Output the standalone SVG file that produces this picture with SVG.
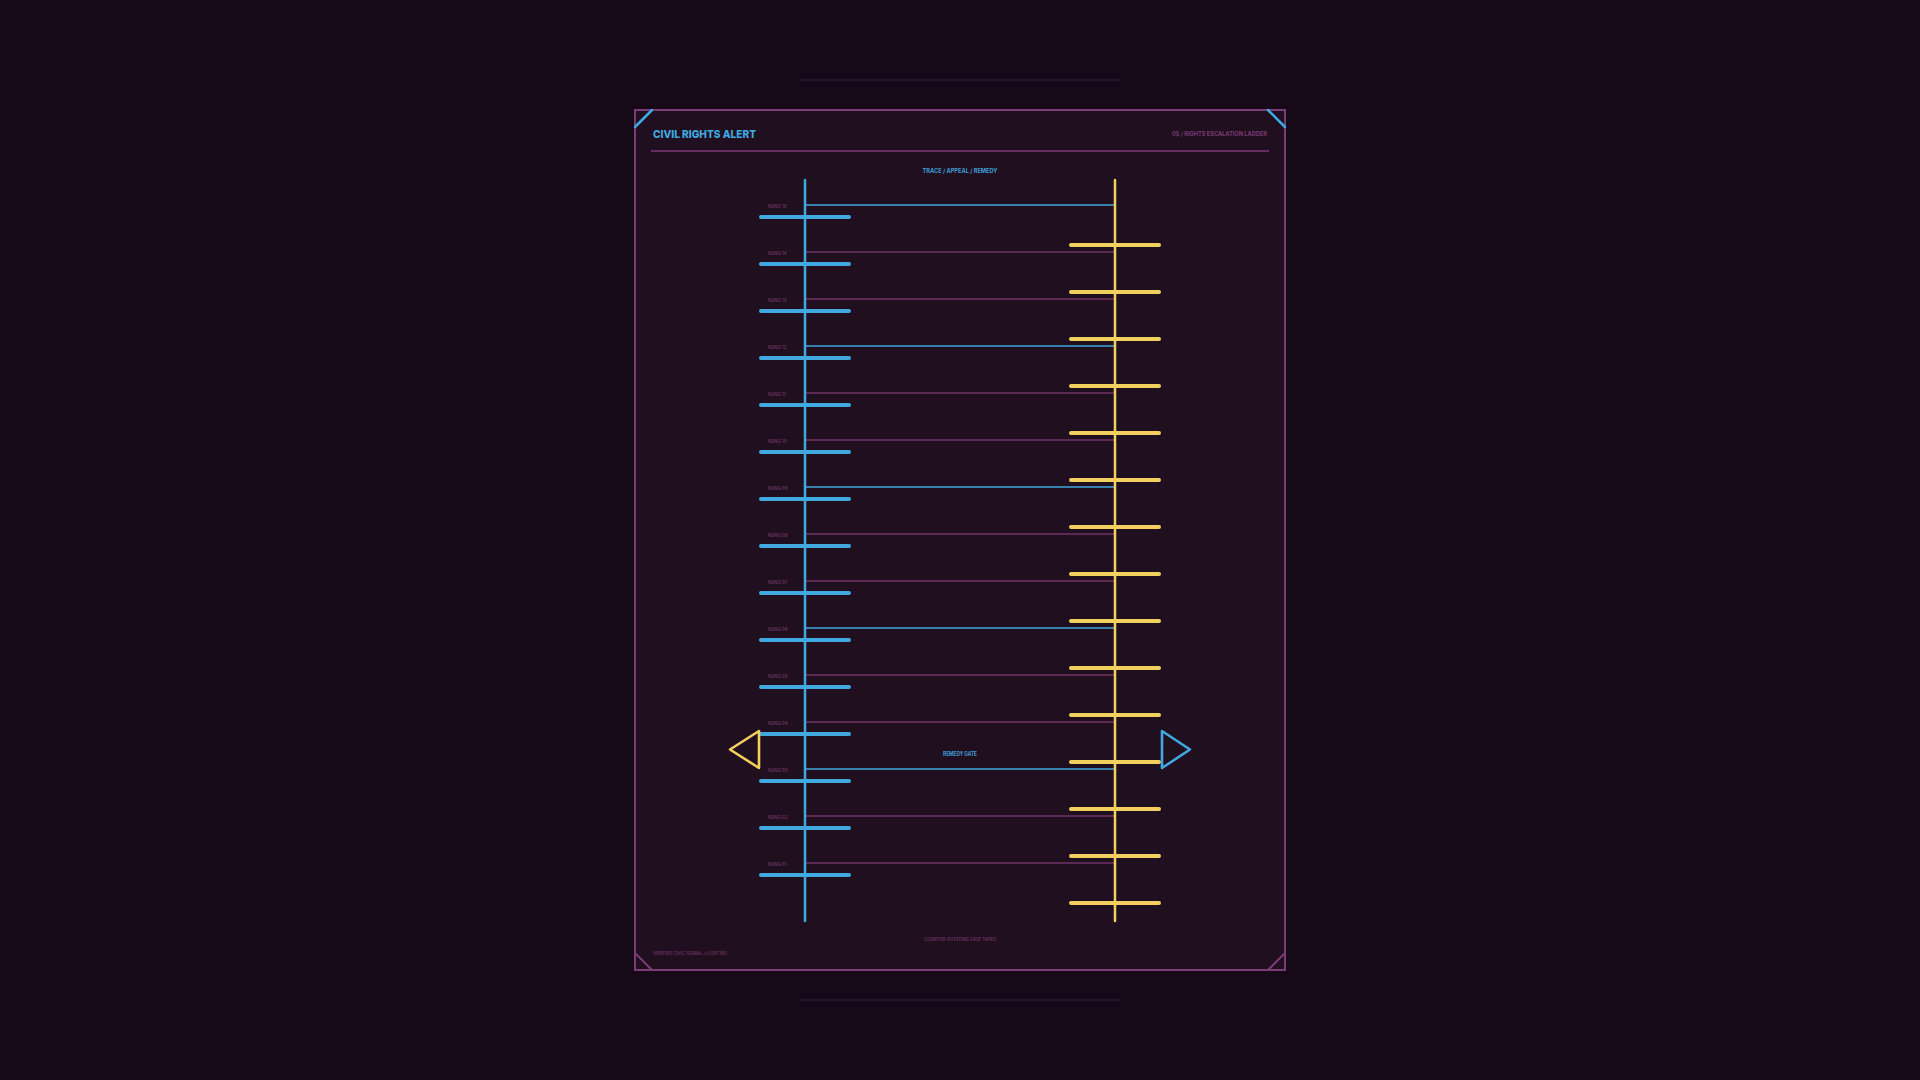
<svg xmlns="http://www.w3.org/2000/svg" width="1920" height="1080" viewBox="0 0 1920 1080">
<defs>
<style>
.bg{fill:#160a18}
.panel{fill:#200f1e;stroke:#7b3b74;stroke-width:2}
.faint{stroke:#2a1630;stroke-width:1.5}
.rule{stroke:#7b3b74;stroke-width:1.6}
.accB{stroke:#3fa9e0;stroke-width:2.5;stroke-linecap:round}
.accP{stroke:#7b3b74;stroke-width:2}
.railB{stroke:#3fa9e0;stroke-width:2.5;stroke-linecap:round}
.railY{stroke:#f2d060;stroke-width:2.5;stroke-linecap:round}
.rungB{stroke:#3fa9e0;stroke-width:4;stroke-linecap:round}
.rungY{stroke:#f2d060;stroke-width:4;stroke-linecap:round}
.cB{stroke:#3fa9e0;stroke-width:1.6;fill:none}
.cP{stroke:#6e3468;stroke-width:1.6;fill:none}
.triY{fill:none;stroke:#f2d060;stroke-width:2.6;stroke-linejoin:round}
.triB{fill:none;stroke:#3fa9e0;stroke-width:2.6;stroke-linejoin:round}
text{font-family:Inter,"Liberation Sans",sans-serif;font-weight:700}
.title{fill:#3fa9e0;font-size:11px;font-weight:800}
.hdr{fill:#7b3b74;font-size:6px}
.sub{fill:#3f9ed6;font-size:6px}
.lbl{fill:#6a3462;font-size:4.4px;font-weight:600}
.foot{fill:#6a3462;font-size:4.6px;font-weight:600}
</style>
</defs>
<rect class="bg" x="0" y="0" width="1920" height="1080"/>
<line class="faint" x1="800" y1="80" x2="1120" y2="80"/>
<line class="faint" x1="800" y1="1000" x2="1120" y2="1000"/>
<g id="frame">
<rect class="panel" x="635" y="110" width="650" height="860"/>
<line class="accB" x1="635" y1="127" x2="652" y2="110"/>
<line class="accB" x1="1268" y1="110" x2="1285" y2="127"/>
<line class="accP" x1="635" y1="953" x2="652" y2="970"/>
<line class="accP" x1="1285" y1="953" x2="1268" y2="970"/>
<line class="rule" x1="651" y1="151" x2="1269" y2="151"/>
</g>
<g id="header">
<text class="title" x="653" y="138" textLength="103" lengthAdjust="spacingAndGlyphs">CIVIL RIGHTS ALERT</text>
<text class="hdr" x="1267" y="136" text-anchor="end" textLength="95" lengthAdjust="spacingAndGlyphs">05 / RIGHTS ESCALATION LADDER</text>
<text class="sub" x="960" y="173" text-anchor="middle" textLength="75" lengthAdjust="spacingAndGlyphs">TRACE / APPEAL / REMEDY</text>
</g>
<g id="connectors">
<line class="cB" x1="805" y1="205" x2="1115" y2="205"/>
<line class="cP" x1="805" y1="252" x2="1115" y2="252"/>
<line class="cP" x1="805" y1="299" x2="1115" y2="299"/>
<line class="cB" x1="805" y1="346" x2="1115" y2="346"/>
<line class="cP" x1="805" y1="393" x2="1115" y2="393"/>
<line class="cP" x1="805" y1="440" x2="1115" y2="440"/>
<line class="cB" x1="805" y1="487" x2="1115" y2="487"/>
<line class="cP" x1="805" y1="534" x2="1115" y2="534"/>
<line class="cP" x1="805" y1="581" x2="1115" y2="581"/>
<line class="cB" x1="805" y1="628" x2="1115" y2="628"/>
<line class="cP" x1="805" y1="675" x2="1115" y2="675"/>
<line class="cP" x1="805" y1="722" x2="1115" y2="722"/>
<line class="cB" x1="805" y1="769" x2="1115" y2="769"/>
<line class="cP" x1="805" y1="816" x2="1115" y2="816"/>
<line class="cP" x1="805" y1="863" x2="1115" y2="863"/>
</g>
<g id="left-rail">
<line class="railB" x1="805" y1="180" x2="805" y2="921"/>
</g>
<g id="right-rail">
<line class="railY" x1="1115" y1="180" x2="1115" y2="921"/>
</g>
<g id="left-rungs">
<g id="rung-15"><line class="rungB" x1="761" y1="217" x2="849" y2="217"/><text class="lbl" x="768" y="208">RUNG 15</text></g>
<g id="rung-14"><line class="rungB" x1="761" y1="264" x2="849" y2="264"/><text class="lbl" x="768" y="255">RUNG 14</text></g>
<g id="rung-13"><line class="rungB" x1="761" y1="311" x2="849" y2="311"/><text class="lbl" x="768" y="302">RUNG 13</text></g>
<g id="rung-12"><line class="rungB" x1="761" y1="358" x2="849" y2="358"/><text class="lbl" x="768" y="349">RUNG 12</text></g>
<g id="rung-11"><line class="rungB" x1="761" y1="405" x2="849" y2="405"/><text class="lbl" x="768" y="396">RUNG 11</text></g>
<g id="rung-10"><line class="rungB" x1="761" y1="452" x2="849" y2="452"/><text class="lbl" x="768" y="443">RUNG 10</text></g>
<g id="rung-09"><line class="rungB" x1="761" y1="499" x2="849" y2="499"/><text class="lbl" x="768" y="490">RUNG 09</text></g>
<g id="rung-08"><line class="rungB" x1="761" y1="546" x2="849" y2="546"/><text class="lbl" x="768" y="537">RUNG 08</text></g>
<g id="rung-07"><line class="rungB" x1="761" y1="593" x2="849" y2="593"/><text class="lbl" x="768" y="584">RUNG 07</text></g>
<g id="rung-06"><line class="rungB" x1="761" y1="640" x2="849" y2="640"/><text class="lbl" x="768" y="631">RUNG 06</text></g>
<g id="rung-05"><line class="rungB" x1="761" y1="687" x2="849" y2="687"/><text class="lbl" x="768" y="678">RUNG 05</text></g>
<g id="rung-04"><line class="rungB" x1="761" y1="734" x2="849" y2="734"/><text class="lbl" x="768" y="725">RUNG 04</text></g>
<g id="rung-03"><line class="rungB" x1="761" y1="781" x2="849" y2="781"/><text class="lbl" x="768" y="772">RUNG 03</text></g>
<g id="rung-02"><line class="rungB" x1="761" y1="828" x2="849" y2="828"/><text class="lbl" x="768" y="819">RUNG 02</text></g>
<g id="rung-01"><line class="rungB" x1="761" y1="875" x2="849" y2="875"/><text class="lbl" x="768" y="866">RUNG 01</text></g>
</g>
<g id="right-rungs">
<line class="rungY" x1="1071" y1="245" x2="1159" y2="245"/>
<line class="rungY" x1="1071" y1="292" x2="1159" y2="292"/>
<line class="rungY" x1="1071" y1="339" x2="1159" y2="339"/>
<line class="rungY" x1="1071" y1="386" x2="1159" y2="386"/>
<line class="rungY" x1="1071" y1="433" x2="1159" y2="433"/>
<line class="rungY" x1="1071" y1="480" x2="1159" y2="480"/>
<line class="rungY" x1="1071" y1="527" x2="1159" y2="527"/>
<line class="rungY" x1="1071" y1="574" x2="1159" y2="574"/>
<line class="rungY" x1="1071" y1="621" x2="1159" y2="621"/>
<line class="rungY" x1="1071" y1="668" x2="1159" y2="668"/>
<line class="rungY" x1="1071" y1="715" x2="1159" y2="715"/>
<line class="rungY" x1="1071" y1="762" x2="1159" y2="762"/>
<line class="rungY" x1="1071" y1="809" x2="1159" y2="809"/>
<line class="rungY" x1="1071" y1="856" x2="1159" y2="856"/>
<line class="rungY" x1="1071" y1="903" x2="1159" y2="903"/>
</g>
<g id="remedy-gate">
<polygon class="triY" points="730,749.5 759,731 759,768"/>
<polygon class="triB" points="1162,731 1162,768 1190,749.5"/>
<text class="sub" x="960" y="756" text-anchor="middle" textLength="34" lengthAdjust="spacingAndGlyphs">REMEDY GATE</text>
</g>
<g id="footer">
<text class="foot" x="960" y="941" text-anchor="middle" textLength="72" lengthAdjust="spacingAndGlyphs">COUNTER-ROTATING CASE TAPES</text>
<text class="foot" x="653" y="955" textLength="74" lengthAdjust="spacingAndGlyphs">VERIFIED CIVIC SIGNAL / LOOP 385</text>
</g>
</svg>
